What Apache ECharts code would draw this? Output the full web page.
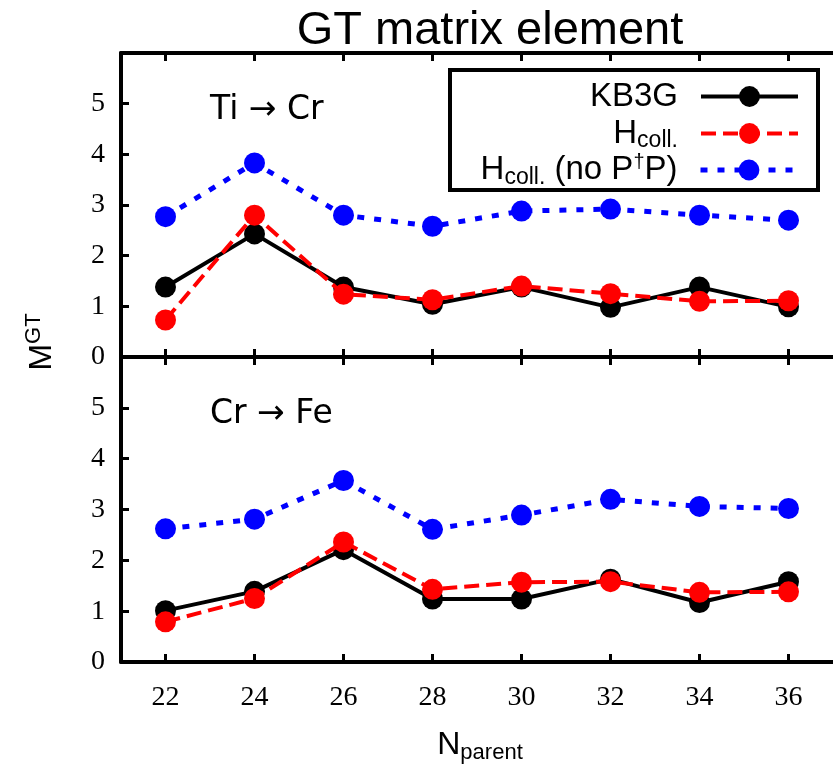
<!DOCTYPE html>
<html>
<head>
<meta charset="utf-8">
<script src="https://cdn.jsdelivr.net/npm/echarts@6/dist/echarts.min.js"></script>
<style>
  html, body { margin: 0; padding: 0; background: #fff; }
  #chart { width: 833px; height: 768px; }
</style>
</head>
<body>
<div id="chart"></div>
<script>
// Neutron number of the parent nucleus
const nParent = [22, 24, 26, 28, 30, 32, 34, 36];
const xTicks = [22, 24, 26, 28, 30, 32, 34, 36];
const yTicks = [0, 1, 2, 3, 4, 5];

// Ti -> Cr transitions
const tiCrKB3G = [1.38, 2.43, 1.38, 1.04, 1.38, 0.98, 1.38, 0.99];
const tiCrColl = [0.73, 2.80, 1.24, 1.13, 1.40, 1.25, 1.10, 1.11];
const tiCrNoPP = [2.77, 3.83, 2.80, 2.58, 2.88, 2.92, 2.80, 2.70];

// Cr -> Fe transitions
const crFeKB3G = [1.01, 1.39, 2.21, 1.24, 1.24, 1.63, 1.17, 1.58];
const crFeColl = [0.79, 1.25, 2.36, 1.43, 1.57, 1.58, 1.37, 1.38];
const crFeNoPP = [2.62, 2.81, 3.57, 2.61, 2.89, 3.20, 3.06, 3.02];

const seriesNames = ['KB3G', 'H_coll.', 'H_coll.(no P†P)'];
const seriesColors = ['#000000', '#ff0000', '#0000ff'];

const pairs = (ys) => nParent.map((x, i) => [x, ys[i]]);

const lineStyles = [
  { width: 4, type: 'solid' },
  { width: 4, type: [15, 7] },
  { width: 5, type: [7, 10] }
];

function makeSeries(idx, values, xAxisIndex, yAxisIndex) {
  return {
    name: seriesNames[idx],
    type: 'line',
    xAxisIndex, yAxisIndex,
    data: pairs(values),
    symbol: 'circle',
    symbolSize: 21,
    showSymbol: true,
    color: seriesColors[idx],
    itemStyle: { color: seriesColors[idx] },
    lineStyle: Object.assign({ color: seriesColors[idx] }, lineStyles[idx]),
    z: 2 + idx * 0.1,
    animation: false
  };
}

const frameLine = { show: true, onZero: false, lineStyle: { color: '#000', width: 4 } };
const tick = (vals) => ({ show: true, inside: true, length: 8, customValues: vals,
                         lineStyle: { color: '#000', width: 3 } });
const tickFont = { fontFamily: 'Liberation Serif', fontSize: 28, color: '#000' };

function xAxisFor(gridIndex, position, withLabels) {
  return {
    type: 'value', gridIndex, position, min: 21, max: 37,
    axisLine: frameLine,
    axisTick: tick(xTicks),
    axisLabel: withLabels
      ? Object.assign({ show: true, margin: 22, customValues: xTicks }, tickFont)
      : { show: false },
    splitLine: { show: false }
  };
}
function yAxisFor(gridIndex) {
  return {
    type: 'value', gridIndex, min: 0, max: 6, interval: 1,
    axisLine: frameLine,
    axisTick: tick([1, 2, 3, 4, 5]),
    axisLabel: Object.assign({ show: true, margin: 16, customValues: yTicks }, tickFont),
    splitLine: { show: false }
  };
}

// Legend label with subscripts and a superscript dagger
const legendRich = {
  h: { fontFamily: 'Liberation Sans', fontSize: 33, color: '#000' },
  s: { fontFamily: 'Liberation Sans', fontSize: 23, color: '#000', padding: [15, 0, 0, 0] },
  d: { fontFamily: 'Liberation Sans', fontSize: 20, color: '#000', padding: [0, 0, 16, 0] },
  g: { width: 18 }
};
function legendText(name) {
  if (name === 'KB3G') return '{h|KB3G}{g|}';
  if (name === 'H_coll.') return '{h|H}{s|coll.}{g|}';
  return '{h|H}{s|coll.}{h| (no P}{d|†}{h|P)}{g|}';
}
const legendRowCenters = [93, 130, 165];
const legends = seriesNames.map((nm, i) => ({
  data: [nm],
  orient: 'vertical',
  align: 'right',
  right: 33,
  top: legendRowCenters[i] - 13,
  padding: 0,
  itemWidth: 97,
  itemHeight: 26,
  selectedMode: false,
  formatter: legendText,
  textStyle: { rich: legendRich },
  lineStyle: { width: lineStyles[i].width },
  z: 10
}));

const chart = echarts.init(document.getElementById('chart'), null, { renderer: 'canvas' });
chart.setOption({
  backgroundColor: '#fff',
  animation: false,
  title: {
    text: 'GT matrix element',
    left: 485, top: 3, textAlign: 'center',
    textStyle: { fontFamily: 'Liberation Sans', fontSize: 47, fontWeight: 'normal', color: '#000' }
  },
  grid: [
    { left: 121, right: -11, top: 53, height: 304 },
    { left: 121, right: -11, top: 357, height: 305 }
  ],
  xAxis: [
    xAxisFor(0, 'bottom', false),
    xAxisFor(0, 'top', false),
    xAxisFor(1, 'bottom', true),
    xAxisFor(1, 'top', false)
  ],
  yAxis: [yAxisFor(0), yAxisFor(1)],
  legend: legends,
  graphic: [
    { type: 'rect', shape: { x: 450, y: 70, width: 368, height: 120 },
      style: { fill: '#fff', stroke: '#000', lineWidth: 4 }, z: 5 },
    { type: 'text', x: 210, y: 110, z: 6,
      style: { text: 'Ti → Cr', fontFamily: 'DejaVu Sans', fontSize: 33, fill: '#000',
               verticalAlign: 'middle' } },
    { type: 'text', x: 210, y: 414, z: 6,
      style: { text: 'Cr → Fe', fontFamily: 'DejaVu Sans', fontSize: 33, fill: '#000',
               verticalAlign: 'middle' } },
    { type: 'text', x: 42, y: 342, rotation: Math.PI / 2, z: 6,
      style: { text: '{m|M}{p|GT}', align: 'center', verticalAlign: 'middle',
               rich: {
                 m: { fontFamily: 'Liberation Sans', fontSize: 32, fill: '#000' },
                 p: { fontFamily: 'Liberation Sans', fontSize: 22, fill: '#000', padding: [0, 0, 16, 0] }
               } } },
    { type: 'text', x: 480, y: 745, z: 6,
      style: { text: '{n|N}{s|parent}', align: 'center', verticalAlign: 'middle',
               rich: {
                 n: { fontFamily: 'Liberation Sans', fontSize: 32, fill: '#000' },
                 s: { fontFamily: 'Liberation Sans', fontSize: 22, fill: '#000', padding: [16, 0, 0, 0] }
               } } }
  ],
  series: [
    makeSeries(0, tiCrKB3G, 0, 0),
    makeSeries(1, tiCrColl, 0, 0),
    makeSeries(2, tiCrNoPP, 0, 0),
    makeSeries(0, crFeKB3G, 2, 1),
    makeSeries(1, crFeColl, 2, 1),
    makeSeries(2, crFeNoPP, 2, 1)
  ]
});
</script>
</body>
</html>
